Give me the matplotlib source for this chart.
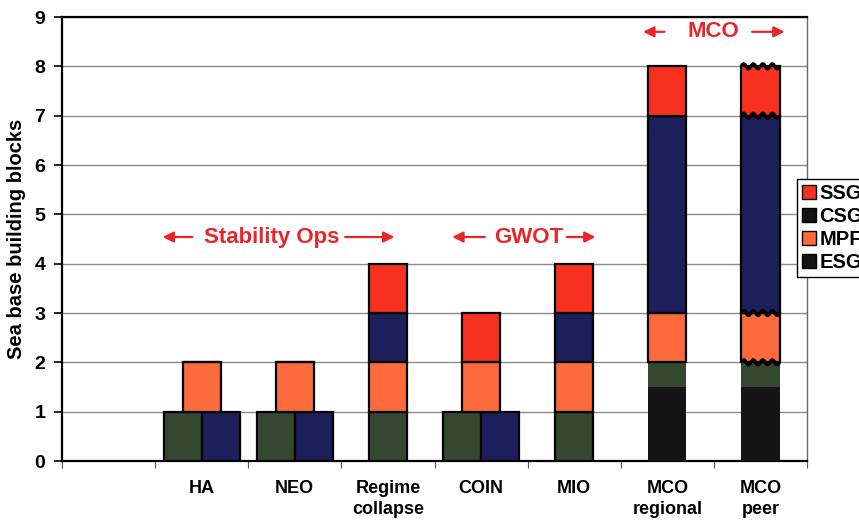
import matplotlib.pyplot as plt
import numpy as np
from matplotlib.patches import Patch

# categories (first slot is left empty in the original)
categories = ["", "HA", "NEO", "Regime\ncollapse", "COIN", "MIO", "MCO\nregional", "MCO\npeer"]

# block counts per category
base = [0, 0, 0, 0, 0, 0, 1.5, 1.5]
esg = [0, 1, 1, 1, 1, 1, 0.5, 0.5]
mpf = [0, 1, 1, 1, 1, 1, 1, 1]
csg = [0, 1, 1, 1, 1, 1, 4, 4]
ssg = [0, 0, 0, 1, 1, 1, 1, 1]
# ESG and CSG sit side by side at the bottom for these
split = [False, True, True, False, True, False, False, False]

c_base = "#141414"
c_esg = "#33482e"
c_mpf = "#fd6a3b"
c_csg = "#1d1f5b"
c_ssg = "#f8301f"
red = "#e8262a"

plt.rcParams['font.family'] = ['Liberation Sans', 'DejaVu Sans']
fig = plt.figure(figsize=(8.59, 5.27), dpi=100)
ax = fig.add_axes([62/859, 1-461/527, (807-62)/859, (461-17)/527])

w = 0.41
edge = dict(edgecolor="black", linewidth=1.6, zorder=3)
for i in range(len(categories)):
    c = i + 0.5
    if split[i]:
        ax.bar(c - 0.205, esg[i], w, bottom=0, color=c_esg, **edge)
        ax.bar(c + 0.205, csg[i], w, bottom=0, color=c_csg, **edge)
        bot = max(esg[i], csg[i])
        ax.bar(c, mpf[i], w, bottom=bot, color=c_mpf, **edge)
        ax.bar(c, ssg[i], w, bottom=bot + mpf[i], color=c_ssg, **edge)
    else:
        bot = 0
        for val, col in [(base[i], c_base), (esg[i], c_esg), (mpf[i], c_mpf),
                         (csg[i], c_csg), (ssg[i], c_ssg)]:
            if val > 0:
                lw = 0 if col in (c_base, c_esg) and base[i] > 0 else 1.6
                ax.bar(c, val, w, bottom=bot, color=col, edgecolor="black",
                       linewidth=lw, zorder=3)
            bot += val

# wavy joints on the "MCO peer" bar
i = 7
c = i + 0.5
xs = np.linspace(c - w / 2, c + w / 2, 80)
levels = np.cumsum([base[i] + esg[i], mpf[i], csg[i], ssg[i]])
for lev in levels:
    ax.plot(xs, lev + 0.05 * np.sin((xs - xs[0]) / w * 4 * 2 * np.pi),
            color="black", lw=2.4, zorder=4, solid_capstyle="butt")

ax.set_xlim(0, 8)
ax.set_ylim(0, 9)
ax.set_yticks(range(10))
ax.set_yticklabels([str(v) for v in range(10)], fontsize=14, fontweight="bold")
ax.set_xticks(range(9))
ax.set_xticklabels([])
ax.set_xticks([k + 0.5 for k in range(len(categories))], minor=True)
ax.set_xticklabels(categories, minor=True, fontsize=13, fontweight="bold",
                   linespacing=1.25)
ax.tick_params(axis="x", which="minor", length=0, pad=14)
ax.tick_params(axis="x", which="major", length=5, color="#555555")
ax.tick_params(axis="y", length=6, width=1.2, pad=6)
ax.yaxis.grid(True, color="#8a8a8a", linewidth=1)
ax.set_axisbelow(True)
for s in ["left", "bottom", "top"]:
    ax.spines[s].set_linewidth(1.6)
    ax.spines[s].set_color("black")
ax.spines["right"].set_color("#666666")
ax.spines["right"].set_linewidth(1)

ax.set_ylabel("Sea base building blocks", fontsize=14.5, fontweight="bold", labelpad=6)

# group annotations
arrow = dict(arrowstyle="-|>", color=red, lw=1.6, mutation_scale=16,
             shrinkA=0, shrinkB=0)
groups = [
    ("Stability Ops", 2.25, 4.54, (1.40, 1.08), (3.04, 3.57)),
    ("GWOT", 5.01, 4.54, (4.54, 4.19), (5.42, 5.73)),
    ("MCO", 6.99, 8.70, (6.47, 6.24), (7.41, 7.76)),
]
for label, tx, ty, la, ra in groups:
    ax.text(tx, ty, label, color=red, fontsize=16, fontweight="bold",
            ha="center", va="center")
    ax.annotate("", xy=(la[1], ty), xytext=(la[0], ty), arrowprops=arrow)
    ax.annotate("", xy=(ra[1], ty), xytext=(ra[0], ty), arrowprops=arrow)

handles = [Patch(facecolor=c_ssg, edgecolor="black"),
           Patch(facecolor=c_base, edgecolor="black"),
           Patch(facecolor=c_mpf, edgecolor="black"),
           Patch(facecolor=c_base, edgecolor="black")]
fig.legend(handles, ["SSG", "CSG", "MPF", "ESG"], loc="upper left",
           bbox_to_anchor=(797/859, 1-179/527),
           prop=dict(weight="bold", size=14.5), frameon=True, fancybox=False,
           edgecolor="black", framealpha=1, handlelength=0.7, handleheight=0.7,
           handletextpad=0.15, borderpad=0.25, labelspacing=0.2, borderaxespad=0)

fig.savefig("out.png", dpi=100)
